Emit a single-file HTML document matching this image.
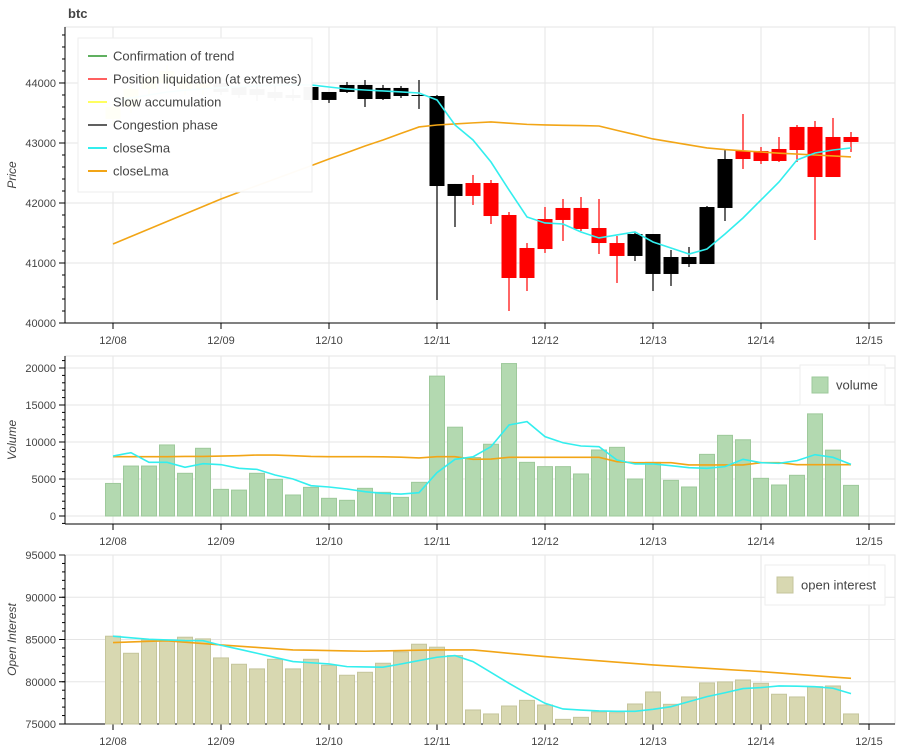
<!DOCTYPE html>
<html><head><meta charset="utf-8"><style>
body{margin:0;background:#fff;}
svg{display:block;font-family:"Liberation Sans",sans-serif;}
</style></head><body>
<svg id="c" width="900" height="750" xmlns="http://www.w3.org/2000/svg"></svg>
<script>
const dates=['12/08','12/09','12/10','12/11','12/12','12/13','12/14','12/15'];
const phase=['Y','Y','Y','Y','Y','Y','K','K','K','K','K','K','K','K','K','K','K','K','K','K','R','R','R','R','R','R','R','R','R','K','K','K','K','K','K','R','R','R','R','R','R','R'];
const openP=[43400,43600,43900,44000,44100,43900,44000,43950,43900,43850,43800,43933,43850,43967,43967,43917,43917,43800,43783,42317,42333,42333,41800,41250,41733,41917,41917,41583,41333,41483,41483,41100,41100,41933,42733,42867,42867,42900,43267,43267,43100,43100];
const closeP=[43600,43900,44100,44200,43900,44000,43850,43800,43800,43750,43750,43717,43717,43850,43733,43733,43783,43783,42283,42117,42117,41783,40750,40750,41233,41717,41567,41333,41117,41117,40817,40817,40983,40983,41917,42733,42700,42700,42883,42433,42433,43017];
const highP=[43700,44000,44200,44300,44200,44100,44100,44050,44000,43950,43900,43967,43850,44017,44050,43967,43950,44050,43800,42317,42467,42383,41850,41333,41933,42067,42100,42067,41450,41517,41483,41217,41267,41950,42883,43483,42933,43100,43300,43367,43417,43183];
const lowP=[43300,43500,43800,43900,43800,43800,43800,43750,43700,43700,43700,43667,43667,43833,43600,43717,43750,43567,40383,41600,41967,41650,40200,40533,41167,41367,41533,41150,40667,41033,40533,40617,40933,40983,41700,42567,42650,42683,42683,41383,42433,42850];
const priceSma=[43700,43750,43800,43850,43880,43900,43920,43940,43950,43960,43970,43967,43933,43900,43883,43867,43850,43833,43717,43300,43050,42683,42217,41767,41667,41650,41517,41417,41467,41517,41350,41250,41150,41233,41483,41750,42050,42350,42717,42833,42883,42917];
const priceLma=[41317,41442,41567,41692,41817,41942,42067,42180,42290,42400,42510,42620,42733,42840,42950,43050,43160,43267,43300,43317,43335,43350,43330,43310,43300,43295,43290,43283,43210,43140,43067,43017,42967,42917,42890,42870,42850,42830,42815,42800,42785,42767];
const volume=[4400,6750,6750,9600,5770,9150,3600,3500,5770,4950,2840,3870,2390,2120,3740,3200,2520,4550,18900,12000,7900,9700,20600,7250,6670,6670,5680,8920,9280,5000,7250,4820,3920,8330,10900,10300,5090,4190,5500,13800,8900,4140];
const volSma=[8100,8560,7250,7250,6580,7070,6940,6440,6300,5540,5000,4100,3920,3650,3290,3060,2970,3150,5860,7660,8000,9370,12300,12750,10720,9900,9460,9370,7570,7030,7030,6800,6530,6440,6670,7660,7200,7120,7480,8290,7930,6980];
const volLma=[8020,8020,8020,8020,8050,8050,8100,8150,8240,8240,8150,8050,8020,8020,8020,8000,7950,7840,8020,8020,7660,7700,7930,7930,7930,7930,7930,7930,7340,7200,7200,7200,6900,6900,6900,6900,7200,7200,6940,6940,6940,6940];
const oi=[85390,83370,84950,84950,85270,85070,82820,82070,81520,82660,81520,82660,81950,80770,81120,82190,83530,84440,84090,83100,76660,76190,77130,77800,77250,75550,75790,76420,76340,77370,78790,77330,78200,79860,79980,80210,79820,78520,78200,79420,79500,76190];
const oiSma=[85390,85200,85030,84950,84880,84860,84320,83850,83370,82880,82390,82250,82110,81790,81750,81720,82100,82510,82900,83100,82390,81100,79820,78600,77450,76780,76650,76550,76500,76500,76740,77050,77650,78240,78700,79190,79310,79500,79480,79420,79230,78590];
const oiLma=[84640,84710,84780,84840,84680,84520,84360,84210,84060,83910,83770,83730,83690,83650,83610,83650,83690,83730,83770,83770,83770,83570,83370,83170,82980,82810,82640,82480,82320,82150,81990,81860,81720,81590,81460,81330,81200,81040,80880,80720,80560,80410];

const NS='http://www.w3.org/2000/svg';
const svg=document.getElementById('c');
function mk(tag,attrs,parent){const e=document.createElementNS(NS,tag);for(const k in attrs)e.setAttribute(k,attrs[k]);(parent||svg).appendChild(e);return e;}
const X0=65,X1=895;
function xi(i){return 113+18*i;}
function xd(d){return 113+108*d;}
const panels=[
 {top:27,bot:323,vmin:40000,vmax:44933,ticks:[40000,41000,42000,43000,44000],minor:200,label:'Price',name:'price'},
 {top:356,bot:524,vmin:-1080,vmax:21620,ticks:[0,5000,10000,15000,20000],minor:1000,label:'Volume',name:'volume'},
 {top:555,bot:724,vmin:75000,vmax:95000,ticks:[75000,80000,85000,90000,95000],minor:1000,label:'Open Interest',name:'open-interest'}
];
panels.forEach(p=>{p.y=v=>p.bot-(v-p.vmin)/(p.vmax-p.vmin)*(p.bot-p.top);});

panels.forEach(p=>{
 const g=mk('g',{});
 
 
 mk('rect',{x:X0,y:p.top,width:X1-X0,height:p.bot-p.top,fill:'#fff',stroke:'#e5e5e5'},g);
 p.ticks.forEach(t=>{const y=p.y(t);
  const gl=mk('line',{x1:X0,x2:X1,y1:y,y2:y,stroke:'#e5e5e5'},g);
  
  mk('line',{x1:X0-6,x2:X0,y1:y,y2:y,stroke:'#000'},g);
  const tx=mk('text',{x:X0-9,y:y+4,'text-anchor':'end','font-size':11,fill:'#444'},g);tx.textContent=t;
  
 });
 for(let v=Math.ceil(p.vmin/p.minor)*p.minor;v<=p.vmax;v+=p.minor){const y=p.y(v);if(y<p.top-0.5)continue;mk('line',{x1:X0-3,x2:X0,y1:y,y2:y,stroke:'#000'},g);}
 dates.forEach((d,k)=>{const x=xd(k);
  const gl=mk('line',{x1:x,x2:x,y1:p.top,y2:p.bot,stroke:'#e5e5e5'},g);
  
  mk('line',{x1:x,x2:x,y1:p.bot,y2:p.bot+6,stroke:'#000'},g);
  const tx=mk('text',{x:x,y:p.bot+21,'text-anchor':'middle','font-size':11,fill:'#444'},g);tx.textContent=d;
  
 });
 mk('line',{x1:X0,x2:X0,y1:p.top,y2:p.bot,stroke:'#000'},g);
 mk('line',{x1:X0,x2:X1,y1:p.bot,y2:p.bot,stroke:'#000'},g);
 const cy=(p.top+p.bot)/2;
 const lb=mk('text',{x:16,y:cy,transform:`rotate(-90 16 ${cy})`,'text-anchor':'middle','font-size':12,'font-style':'italic',fill:'#444'},g);
 lb.textContent=p.label;
 
});

const title=mk('text',{x:68,y:18,'font-size':13,'font-weight':'bold',fill:'#444'});title.textContent='btc';


const col={Y:'#ffff00',K:'#000000',R:'#ff0000',G:'#008000'};
const P=panels[0];
phase.forEach((ph,i)=>{
 const x=xi(i),c=col[ph];
 const w=mk('line',{x1:x,x2:x,y1:P.y(highP[i]),y2:P.y(lowP[i]),stroke:c,'stroke-width':1.2});
 
 const t=P.y(Math.max(openP[i],closeP[i])),b=P.y(Math.min(openP[i],closeP[i]));
 const r=mk('rect',{x:x-7.5,y:t,width:15,height:Math.max(1,b-t),fill:c});
 
});
function line(arr,p,color,name){
 const pts=arr.map((v,i)=>xi(i)+','+p.y(v)).join(' ');
 const l=mk('polyline',{points:pts,fill:'none',stroke:color,'stroke-width':1.6});
 
}
line(priceLma,P,'#f2a516','price-lma-line');
line(priceSma,P,'#33eeee','price-sma-line');

const V=panels[1];
volume.forEach((v,i)=>{
 const r=mk('rect',{x:xi(i)-7.5,y:V.y(v),width:15,height:V.y(0)-V.y(v),fill:'#b3d9b0',stroke:'#9ec99b','stroke-width':1});
 
});
line(volLma,V,'#f2a516','volume-lma-line');
line(volSma,V,'#33eeee','volume-sma-line');

const O=panels[2];
oi.forEach((v,i)=>{
 const r=mk('rect',{x:xi(i)-7.5,y:O.y(v),width:15,height:O.y(75000)-O.y(v),fill:'#d8d8b1',stroke:'#c5c59c','stroke-width':1});
 
});
line(oiLma,O,'#f2a516','oi-lma-line');
line(oiSma,O,'#33eeee','oi-sma-line');

// legends
const lg=mk('g',{});

mk('rect',{x:78,y:38,width:234,height:154,fill:'#fff','fill-opacity':0.97,stroke:'#eee'},lg);
const items=[['Confirmation of trend','#008000'],['Position liquidation (at extremes)','#ff0000'],['Slow accumulation','#ffff00'],['Congestion phase','#000000'],['closeSma','#33eeee'],['closeLma','#f2a516']];
items.forEach((it,k)=>{const y=56+k*23;
 const e=mk('g',{},lg);
 
 mk('line',{x1:88,x2:107,y1:y,y2:y,stroke:it[1],'stroke-width':k>=4?2:1.2},e);
 const t=mk('text',{x:113,y:y+4.5,'font-size':13,fill:'#444'},e);t.textContent=it[0];
});
function boxLegend(x,y,w,label,fill,stroke,name){
 const g=mk('g',{});
 
 mk('rect',{x:x,y:y,width:w,height:40,fill:'#fff','fill-opacity':0.95,stroke:'#eee'},g);
 mk('rect',{x:x+12,y:y+12,width:16,height:16,fill:fill,stroke:stroke},g);
 const t=mk('text',{x:x+36,y:y+24.5,'font-size':13,fill:'#444'},g);t.textContent=label;
}
boxLegend(800,365,85,'volume','#b3d9b0','#9ec99b','volume-legend');
boxLegend(765,565,120,'open interest','#d8d8b1','#c5c59c','oi-legend');
</script>
</body></html>
